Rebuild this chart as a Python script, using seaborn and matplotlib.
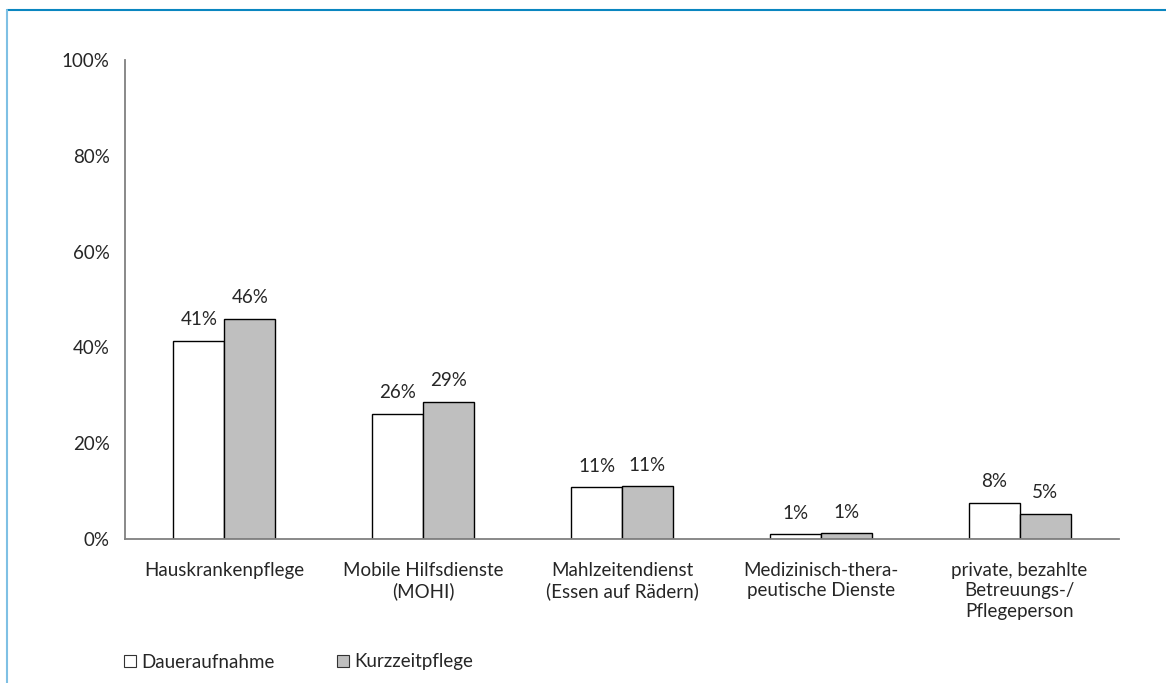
import matplotlib
matplotlib.use("Agg")
import matplotlib.pyplot as plt
import seaborn as sns
import pandas as pd
from matplotlib.lines import Line2D
from matplotlib.patches import Patch

categories = ["Hauskrankenpflege", "Mobile Hilfsdienste\n(MOHI)", "Mahlzeitendienst\n(Essen auf Rädern)",
              "Medizinisch-thera-\npeutische Dienste", "private, bezahlte\nBetreuungs-/\nPflegeperson"]
series = ["Daueraufnahme", "Kurzzeitpflege"]
dauer = [41.4, 26.2, 10.8, 1.0, 7.6]
kurz = [46.0, 28.7, 11.0, 1.2, 5.3]
labels_dauer = ["41%", "26%", "11%", "1%", "8%"]
labels_kurz = ["46%", "29%", "11%", "1%", "5%"]
yticks = [0, 20, 40, 60, 80, 100]
ytick_labels = ["0%", "20%", "40%", "60%", "80%", "100%"]
colors = ["#FFFFFF", "#BFBFBF"]

df = pd.DataFrame({
    "Kategorie": categories * 2,
    "Serie": [series[0]] * 5 + [series[1]] * 5,
    "Wert": dauer + kurz,
})

sns.set_style("white")
plt.rcParams["font.family"] = ["Lato", "DejaVu Sans"]
FS = 13.5
TC = "#262626"

fig = plt.figure(figsize=(11.66, 6.83), dpi=100)
ax = fig.add_axes([125 / 1166, 1 - 539 / 683, (1119 - 125) / 1166, (539 - 60) / 683])

sns.barplot(data=df, x="Kategorie", y="Wert", hue="Serie", palette=colors,
            width=0.513, edgecolor="black", linewidth=1.0, ax=ax, legend=False,
            saturation=1)

for cont, labs in zip(ax.containers, [labels_dauer, labels_kurz]):
    ax.bar_label(cont, labels=labs, padding=9, fontsize=FS, color=TC)

ax.set_ylim(0, 100)
ax.set_yticks(yticks)
ax.set_yticklabels(ytick_labels, fontsize=FS, color=TC)
ax.tick_params(axis="x", labelsize=FS, colors=TC, length=0, pad=16.5)
ax.tick_params(axis="y", length=0, pad=11)
for lab in ax.get_xticklabels():
    lab.set_linespacing(1.25)
ax.set_xlabel("")
ax.set_ylabel("")
for s in ["top", "right"]:
    ax.spines[s].set_visible(False)
for s in ["left", "bottom"]:
    ax.spines[s].set_color("#808080")
    ax.spines[s].set_linewidth(1.3)

handles = [Patch(facecolor=c, edgecolor="#333333", linewidth=0.8) for c in colors]
fig.legend(handles, series, loc="center left", bbox_to_anchor=(116 / 1166, 1 - 662 / 683),
           ncol=2, frameon=False, fontsize=FS, handlelength=0.65, handleheight=0.65,
           handletextpad=0.3, columnspacing=3.3, borderaxespad=0)

fig.add_artist(Line2D([7 / 1166, 1], [1 - 10 / 683, 1 - 10 / 683], color="#0A86C0", linewidth=1.5,
                      transform=fig.transFigure))
fig.add_artist(Line2D([7 / 1166, 7 / 1166], [0, 1 - 10 / 683], color="#7FC0E4", linewidth=1.5,
                      transform=fig.transFigure))

fig.savefig("out.png", dpi=100)
